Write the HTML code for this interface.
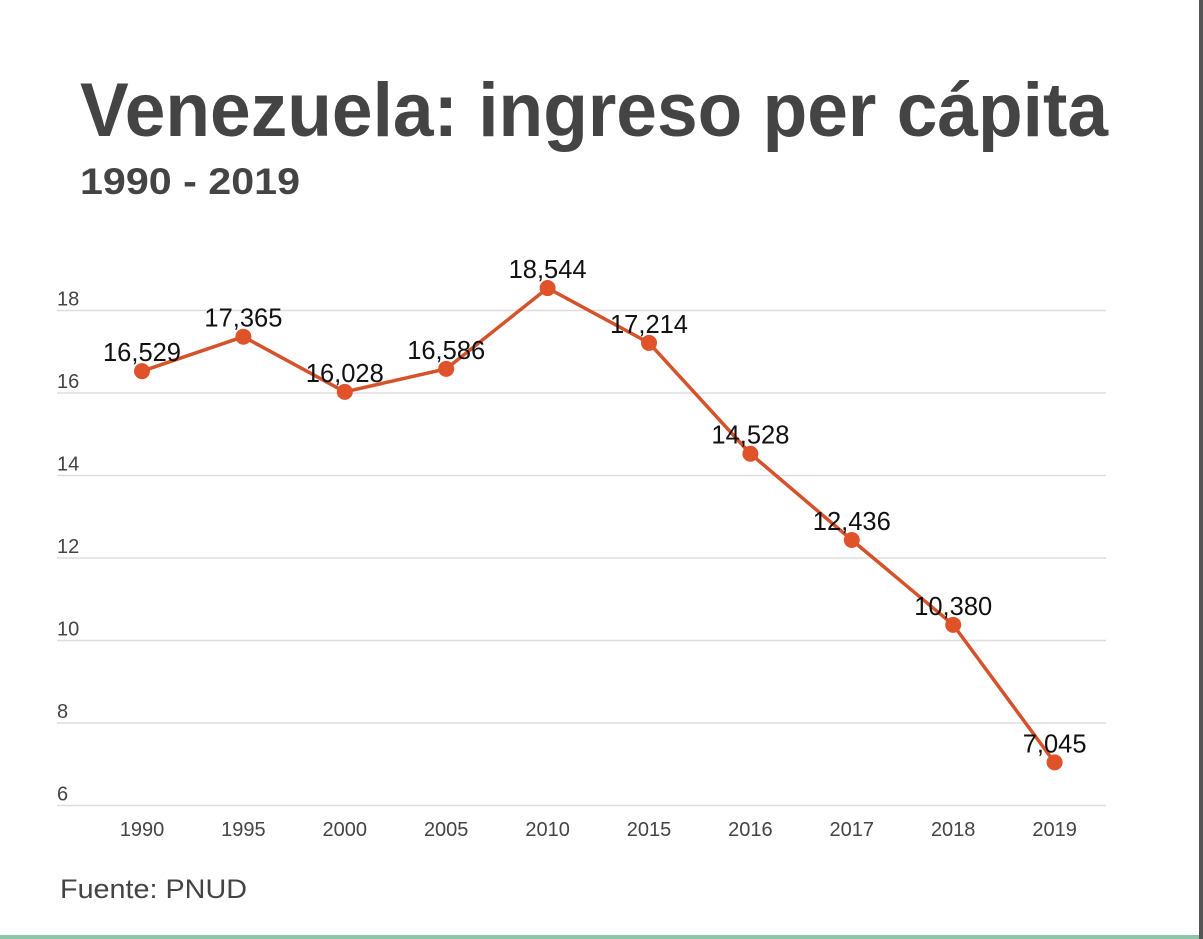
<!DOCTYPE html>
<html><head><meta charset="utf-8"><style>
body{margin:0;background:#fff;}
svg{display:block;font-family:"Liberation Sans",sans-serif;}
</style></head><body>
<svg width="1203" height="939">
<rect x="0" y="0" width="1203" height="939" fill="#fff"/>
<rect x="1199" y="0" width="4" height="939" fill="#555"/>
<rect x="0" y="935" width="1199" height="4" fill="#8cc6a6"/>
<text x="80" y="136" font-size="76" font-weight="bold" fill="#444" textLength="1028" lengthAdjust="spacingAndGlyphs">Venezuela: ingreso per cápita</text>
<text x="80" y="194" font-size="37" font-weight="bold" fill="#444" textLength="220" lengthAdjust="spacingAndGlyphs">1990 - 2019</text>
<text x="60" y="898" font-size="27" fill="#444" textLength="187" lengthAdjust="spacingAndGlyphs">Fuente: PNUD</text>
<g id="grid"></g><g id="xl"></g><g id="line"></g>
</svg>
<script>
const categories=["1990","1995","2000","2005","2010","2015","2016","2017","2018","2019"];
const values=[16.529,17.365,16.028,16.586,18.544,17.214,14.528,12.436,10.380,7.045];
const valueLabels=["16,529","17,365","16,028","16,586","18,544","17,214","14,528","12,436","10,380","7,045"];
const yTicks=[6,8,10,12,14,16,18];
const NS="http://www.w3.org/2000/svg";
const y=v=>393-(v-16)*41.25;
const x=i=>142+i*101.4;
function mk(t,a,p){const e=document.createElementNS(NS,t);for(const k in a)e.setAttribute(k,a[k]);p.appendChild(e);return e;}
const g=document.getElementById('grid');
yTicks.forEach(t=>{
 const l=mk('line',{x1:57,x2:1106,y1:y(t),y2:y(t),stroke:'#ddd','stroke-width':1.5},g);
 
 
 const tx=mk('text',{x:57,y:y(t)-5,'font-size':20,fill:'#444'},g);tx.textContent=t;
 
 
});
const xl=document.getElementById('xl');
categories.forEach((c,i)=>{
 const tx=mk('text',{x:x(i),y:836,'font-size':20,fill:'#444','text-anchor':'middle'},xl);tx.textContent=c;
 
 
});
const lg=document.getElementById('line');
const pl=mk('polyline',{points:values.map((v,i)=>x(i)+','+y(v)).join(' '),fill:'none',stroke:'#d4532b','stroke-width':3.5},lg);


values.forEach((v,i)=>{
 const c=mk('circle',{cx:x(i),cy:y(v),r:8,fill:'#e0522a'},lg);
 
 
 const t=mk('text',{x:x(i),y:y(v)-10,'font-size':25.5,fill:'#111','text-anchor':'middle'},lg);t.textContent=valueLabels[i];
 
 
});
</script>
</body></html>
